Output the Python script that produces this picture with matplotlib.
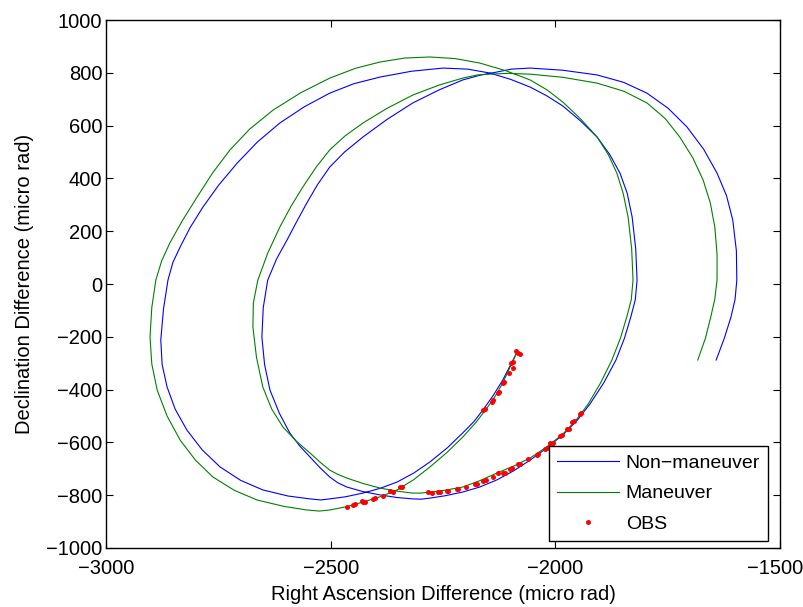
import matplotlib
matplotlib.use("Agg")
import matplotlib.pyplot as plt
from matplotlib.transforms import ScaledTranslation

# curve samples (micro rad)
nonman_ra = [-2085, -2101, -2117, -2138, -2161, -2181, -2206, -2240, -2279, -2315,
             -2352, -2390, -2428, -2467, -2502, -2522, -2546, -2595, -2651, -2700,
             -2746, -2786, -2820, -2846, -2864, -2875, -2878, -2872, -2862, -2851,
             -2835, -2813, -2784, -2749, -2708, -2663, -2613, -2558, -2502, -2448,
             -2390, -2320, -2250, -2195, -2145, -2099, -2056, -2019, -1983, -1944,
             -1907, -1879, -1856, -1840, -1829, -1821, -1818, -1822, -1832, -1846,
             -1865, -1892, -1923, -1951, -1981, -2018, -2056, -2093, -2130, -2168,
             -2206, -2245, -2279, -2298, -2317, -2351, -2390, -2429, -2464, -2484,
             -2502, -2523, -2546, -2568, -2591, -2614, -2635, -2647, -2653, -2650,
             -2640, -2620, -2597, -2575, -2553, -2529, -2502, -2469, -2428, -2375,
             -2317, -2259, -2206, -2165, -2130, -2098, -2056, -1984, -1907, -1848,
             -1796, -1749, -1707, -1670, -1640, -1619, -1605, -1597, -1596, -1600,
             -1609, -1624, -1642]
nonman_dec = [-258, -311, -364, -422, -477, -521, -564, -620, -674, -716,
              -750, -774, -792, -806, -814, -818, -814, -803, -780, -744,
              -693, -628, -553, -474, -390, -305, -212, -95, 15, 82,
              140, 213, 292, 375, 458, 538, 610, 672, 723, 759,
              784, 806, 818, 814, 799, 775, 746, 713, 674, 618,
              557, 491, 420, 344, 254, 133, 15, -60, -125, -205,
              -288, -374, -455, -516, -568, -620, -667, -708, -742, -769,
              -788, -802, -811, -815, -814, -809, -799, -786, -769, -753,
              -731, -697, -655, -615, -564, -490, -402, -305, -201, -90,
              15, 96, 167, 238, 307, 377, 443, 500, 557, 623,
              686, 735, 773, 792, 803, 814, 818, 810, 792, 764,
              723, 666, 595, 511, 420, 335, 242, 126, 15, -59,
              -125, -206, -288]

man_ra = [-2085, -2101, -2117, -2133, -2152, -2176, -2206, -2241, -2279, -2315,
          -2352, -2390, -2428, -2466, -2502, -2525, -2553, -2605, -2664, -2715,
          -2762, -2801, -2835, -2864, -2886, -2898, -2902, -2898, -2889, -2876,
          -2858, -2830, -2797, -2763, -2724, -2680, -2628, -2566, -2502, -2445,
          -2390, -2335, -2279, -2223, -2168, -2110, -2056, -2018, -1983, -1944,
          -1907, -1882, -1863, -1849, -1838, -1830, -1827, -1831, -1841, -1855,
          -1874, -1899, -1927, -1954, -1983, -2019, -2056, -2093, -2130, -2168,
          -2206, -2245, -2279, -2298, -2317, -2351, -2390, -2429, -2464, -2484,
          -2502, -2522, -2546, -2576, -2606, -2631, -2651, -2665, -2673, -2672,
          -2662, -2640, -2613, -2588, -2562, -2533, -2502, -2468, -2428, -2375,
          -2317, -2258, -2206, -2174, -2145, -2106, -2056, -1983, -1907, -1847,
          -1796, -1755, -1723, -1694, -1671, -1655, -1645, -1640, -1640, -1645,
          -1654, -1666, -1683]
man_dec = [-258, -316, -375, -423, -470, -523, -580, -638, -693, -741,
           -780, -806, -826, -844, -856, -860, -856, -842, -818, -781,
           -731, -667, -591, -500, -402, -303, -201, -89, 15, 88,
           155, 240, 330, 420, 508, 587, 659, 725, 780, 817,
           841, 856, 860, 854, 837, 808, 773, 735, 689, 626,
           557, 490, 420, 344, 254, 133, 15, -60, -125, -205,
           -288, -374, -455, -516, -568, -617, -659, -690, -716, -745,
           -769, -781, -788, -792, -792, -785, -773, -755, -735, -721,
           -705, -677, -640, -596, -542, -474, -390, -278, -163, -72,
           15, 117, 216, 295, 367, 441, 508, 561, 610, 665,
           716, 754, 780, 792, 795, 798, 795, 783, 761, 730,
           686, 626, 557, 478, 394, 307, 216, 113, 15, -57,
           -125, -206, -288]

obs_ra = [-2088, -2083, -2079, -2094, -2099, -2094, -2103, -2114, -2117, -2125,
          -2128, -2139, -2141, -2157, -2161,
          -2464, -2450, -2446, -2430, -2428, -2424, -2406, -2401, -2384, -2368,
          -2361, -2346, -2341,
          -2283, -2274, -2261, -2257, -2241, -2239, -2219, -2217, -2199, -2179,
          -2174, -2161, -2154, -2139, -2128, -2117, -2112, -2101, -2096, -2083,
          -2079, -2061, -2041, -2039, -2023, -2019, -2012, -2005, -1990, -1985,
          -1974, -1970, -1963, -1958, -1945, -1943]
obs_dec = [-254, -261, -265, -295, -299, -318, -337, -371, -375, -409,
           -413, -439, -447, -474, -477,
           -845, -837, -833, -822, -826, -826, -814, -811, -803, -784,
           -788, -769, -769,
           -788, -792, -788, -788, -784, -784, -777, -777, -769, -758,
           -758, -746, -742, -731, -716, -716, -716, -701, -697, -682,
           -682, -663, -648, -644, -625, -621, -602, -602, -576, -572,
           -549, -549, -523, -519, -492, -489]

plt.rcParams["font.family"] = ["Liberation Sans", "DejaVu Sans"]
plt.rcParams["font.size"] = 14

fig = plt.figure(figsize=(8.04, 6.07), dpi=100)
ax = fig.add_axes([0.1318, 0.0972, 0.8383, 0.8698])

ax.plot(nonman_ra, nonman_dec, "-", color=(0, 0, 1), lw=0.8, label="Non\u2212maneuver")
ax.plot(man_ra, man_dec, "-", color=(0, 0.5, 0), lw=0.8, label="Maneuver")
ax.plot(obs_ra, obs_dec, "o", color=(1, 0, 0), ms=3.6, mew=0, label="OBS")

ax.set_xlim(-3000, -1500)
ax.set_ylim(-1000, 1000)
ax.set_xticks(range(-3000, -1499, 500))
ax.set_yticks(range(-1000, 1001, 200))
ax.tick_params(direction="in", top=True, right=True, length=5, width=0.8, labelsize=14.5)
ax.tick_params(axis="x", pad=8)
ax.tick_params(axis="y", pad=2.5)
for s in ax.spines.values():
    s.set_linewidth(1.0)

ax.set_xlabel("Right Ascension Difference (micro rad)", fontsize=14.5, labelpad=5)
ax.set_ylabel("Declination Difference (micro rad)", fontsize=14.5, labelpad=9)

# keep the last x tick label inside the canvas
fig.canvas.draw()
last = ax.get_xticklabels()[-1]
last.set_transform(last.get_transform() + ScaledTranslation(-5 / 100, 0, fig.dpi_scale_trans))

leg = ax.legend(loc="lower right", bbox_to_anchor=(0.982, 0.0133), borderaxespad=0,
                fancybox=False, framealpha=1, edgecolor="k", handlelength=3.2,
                handletextpad=0.35, labelspacing=0.68, borderpad=0.4,
                numpoints=1, fontsize=14)
leg.get_frame().set_linewidth(1.0)

fig.savefig("out.png", dpi=100)
